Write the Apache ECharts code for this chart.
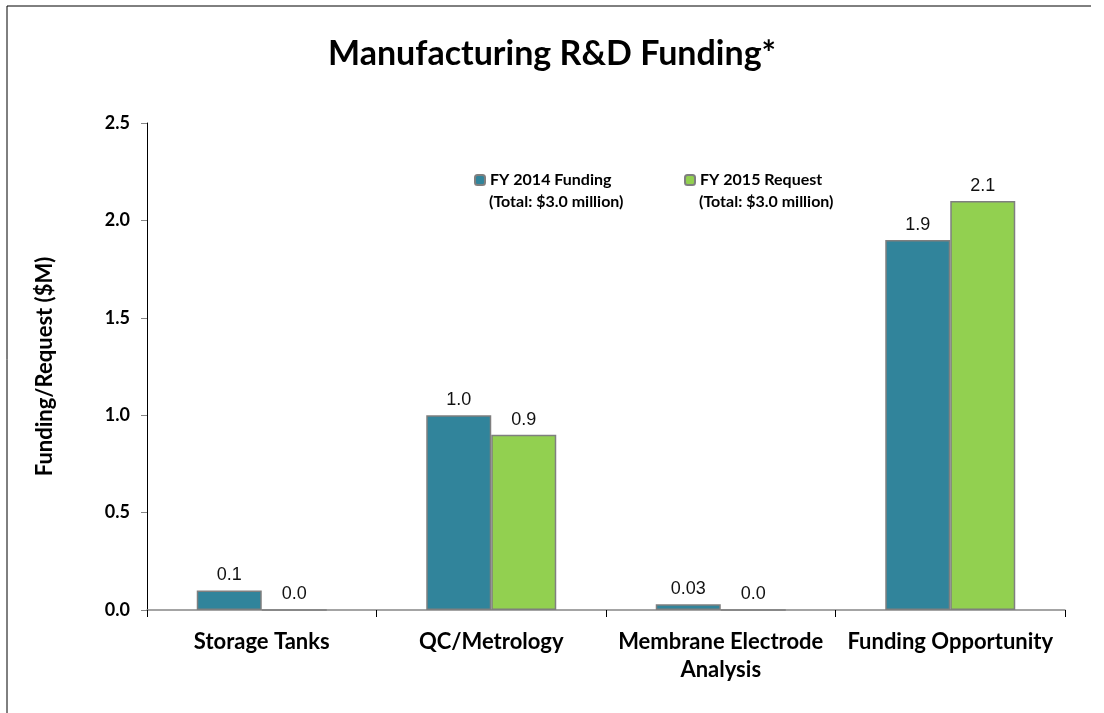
<!DOCTYPE html>
<html>
<head>
<meta charset="utf-8">
<script src="https://cdn.jsdelivr.net/npm/echarts@6/dist/echarts.min.js"></script>
<style>
html,body{margin:0;padding:0;background:#fff;}
#c{width:1104px;height:713px;}
</style>
</head>
<body>
<div id="c"></div>
<script>
const categories = ['Storage Tanks', 'QC/Metrology', 'Membrane Electrode\nAnalysis', 'Funding Opportunity'];
const seriesNames = ['FY 2014 Funding', 'FY 2015 Request'];
const seriesNotes = ['(Total: $3.0 million)', '(Total: $3.0 million)'];
const fy2014 = [0.1, 1.0, 0.03, 1.9];
const fy2015 = [0.0, 0.9, 0.0, 2.1];
const yTicks = { min: 0, max: 2.5, interval: 0.5 };

const boldFont = 'Lato, "Open Sans", sans-serif';
const labelFmt = function (p) {
  const v = p.value;
  return Math.abs(v * 10 - Math.round(v * 10)) < 1e-9 ? v.toFixed(1) : v.toFixed(2);
};
const barLabel = {
  show: true, position: 'top', distance: 6,
  fontFamily: '"Liberation Sans", Arial, sans-serif', fontSize: 18, color: '#111',
  formatter: labelFmt
};
const legendText = { fontFamily: boldFont, fontWeight: 'bold', fontSize: 16, color: '#000' };

const chart = echarts.init(document.getElementById('c'), null, { renderer: 'canvas' });
chart.setOption({
  animation: false,
  backgroundColor: '#fff',
  title: {
    text: 'Manufacturing R&D Funding*',
    left: 'center', top: 32,
    textStyle: { fontFamily: boldFont, fontWeight: 'bold', fontSize: 34, color: '#000' }
  },
  legend: [
    { data: [seriesNames[0]], left: 474, top: 172, padding: 0, itemWidth: 10, itemHeight: 10, itemGap: 5,
      textStyle: legendText },
    { data: [seriesNames[1]], left: 684, top: 172, padding: 0, itemWidth: 10, itemHeight: 10, itemGap: 5,
      textStyle: legendText }
  ],
  graphic: [
    { type: 'text', left: 489, top: 194, style: { text: seriesNotes[0], fontFamily: boldFont, fontWeight: 'bold', fontSize: 16, fill: '#000' } },
    { type: 'text', left: 699, top: 194, style: { text: seriesNotes[1], fontFamily: boldFont, fontWeight: 'bold', fontSize: 16, fill: '#000' } },
    { type: 'line', shape: { x1: 7, y1: 6, x2: 1091, y2: 6 }, style: { stroke: '#000', lineWidth: 1 } },
    { type: 'line', shape: { x1: 7, y1: 6, x2: 7, y2: 713 }, style: { stroke: '#000', lineWidth: 1 } }
  ],
  grid: { left: 147, right: 39, top: 123, bottom: 103, containLabel: false },
  xAxis: {
    type: 'category', data: categories,
    axisLine: { lineStyle: { color: '#868686', width: 1.5 } },
    axisTick: { show: true, length: 7, lineStyle: { color: '#000' } },
    axisLabel: { interval: 0, margin: 18, fontFamily: boldFont, fontWeight: 'bold', fontSize: 22, color: '#000', lineHeight: 28 }
  },
  yAxis: {
    type: 'value', min: yTicks.min, max: yTicks.max, interval: yTicks.interval,
    name: 'Funding/Request ($M)', nameLocation: 'middle', nameRotate: 90, nameGap: 91,
    nameTextStyle: { fontFamily: boldFont, fontWeight: 'bold', fontSize: 22, color: '#000' },
    axisLine: { show: true, lineStyle: { color: '#000', width: 1 } },
    axisTick: { show: true, length: 6, lineStyle: { color: '#868686' } },
    splitLine: { show: false },
    axisLabel: { margin: 17, fontFamily: boldFont, fontWeight: 'bold', fontSize: 18, color: '#000',
      formatter: v => v.toFixed(1) }
  },
  series: [
    { name: seriesNames[0], type: 'bar', data: fy2014, barWidth: 65, barGap: '0%',
      itemStyle: { color: '#31849B', borderColor: '#7f7f7f', borderWidth: 1.5 }, label: barLabel },
    { name: seriesNames[1], type: 'bar', data: fy2015, barWidth: 65, barGap: '0%',
      itemStyle: { color: '#92D050', borderColor: '#7f7f7f', borderWidth: 1.5 }, label: barLabel }
  ]
});
</script>
</body>
</html>
